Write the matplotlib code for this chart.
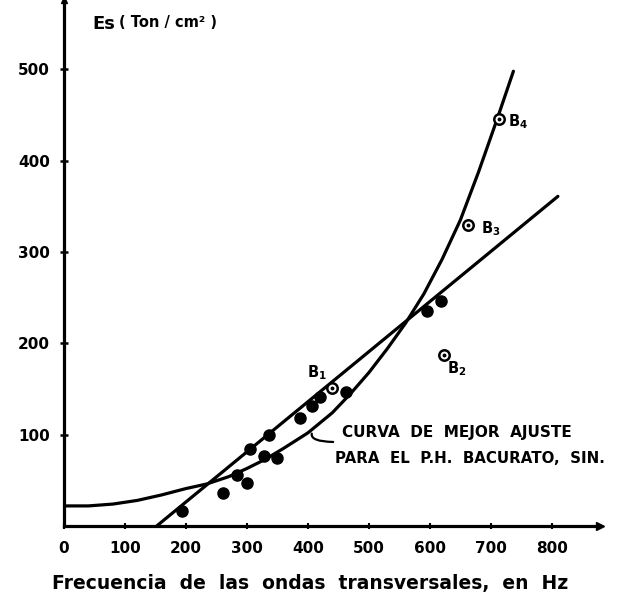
import matplotlib.pyplot as plt

# curva de mejor ajuste
fit_x = [0, 40, 80, 120, 160, 200, 234, 270, 300, 330, 360, 400, 440, 470, 500,
         530, 560, 590, 620, 650, 680, 710, 737]
fit_y = [22, 22, 24, 28, 34, 41, 46, 54, 63, 73, 85, 102, 124, 145, 168,
         194, 222, 254, 292, 335, 388, 445, 498]

# recta
line_x = [152, 810]
line_y = [0, 361]

# puntos medidos
dots_x = [193, 261, 283, 300, 305, 328, 336, 349, 387, 406, 420, 463, 596, 619]
dots_y = [16, 36, 56, 47, 84, 77, 100, 75, 118, 131, 141, 147, 235, 246]

# puntos B
b_x = [439, 623, 663, 713]
b_y = [151, 187, 330, 446]
b_names = ['B$_1$', 'B$_2$', 'B$_3$', 'B$_4$']
b_offsets = [(-11, 11), (9, -10), (16, -3), (14, -2)]

x_ticks = [0, 100, 200, 300, 400, 500, 600, 700, 800]
y_ticks = [100, 200, 300, 400, 500]

plt.rcParams['mathtext.default'] = 'bf'

fig = plt.figure(figsize=(6.22, 5.96), dpi=100)
ax = fig.add_axes([64 / 622, 70 / 596, 536 / 622, 526 / 596])

ax.plot(fit_x, fit_y, color='black', linewidth=2.3, solid_capstyle='round')
ax.plot(line_x, line_y, color='black', linewidth=2.3, solid_capstyle='round')
ax.plot(dots_x, dots_y, 'o', color='black', markersize=8)
ax.plot(b_x, b_y, 'o', markerfacecolor='white', markeredgecolor='black',
        markersize=7.5, markeredgewidth=1.8)
ax.plot(b_x, b_y, 'o', color='black', markersize=1.8)

for x, y, name, off in zip(b_x, b_y, b_names, b_offsets):
    ax.annotate(name, (x, y), xytext=off, textcoords='offset points',
                ha='center', va='center', fontsize=10.5, fontweight='bold')

ax.annotate('', xy=(408, 104), xytext=(446, 92),
            arrowprops=dict(arrowstyle='-', color='black', lw=1.6,
                            connectionstyle='angle3,angleA=0,angleB=60'))
ax.text(456, 102, 'CURVA  DE  MEJOR  AJUSTE', fontsize=11, fontweight='bold',
        va='center', ha='left')
ax.text(445, 74, 'PARA  EL  P.H.  BACURATO,  SIN.', fontsize=10.8, fontweight='bold',
        va='center', ha='left')

ax.text(46, 550, 'Es', fontsize=13, fontweight='bold', va='center', ha='left')
ax.text(90, 551, '( Ton / cm² )', fontsize=10.5, fontweight='bold', va='center', ha='left')

ax.set_xlim(0, 879)
ax.set_ylim(0, 576)
ax.set_xticks(x_ticks)
ax.set_yticks(y_ticks)
ax.set_xticklabels([str(v) for v in x_ticks], fontsize=11, fontweight='bold')
ax.set_yticklabels([str(v) for v in y_ticks], fontsize=11, fontweight='bold')
ax.tick_params(axis='x', direction='inout', length=5, width=1.5, pad=8)
ax.tick_params(axis='y', direction='inout', length=6, width=1.8, pad=7)

for side in ['top', 'right']:
    ax.spines[side].set_visible(False)
for side in ['left', 'bottom']:
    ax.spines[side].set_linewidth(2.3)

ax.plot(1, 0, '>', color='black', markersize=6, transform=ax.transAxes, clip_on=False)
ax.plot(0, 1, '^', color='black', markersize=5, transform=ax.transAxes, clip_on=False)

fig.text(310 / 622, 1 - 584 / 596, 'Frecuencia  de  las  ondas  transversales,  en  Hz',
         fontsize=13.5, fontweight='bold', ha='center', va='center')

fig.savefig('out.png', dpi=100)
